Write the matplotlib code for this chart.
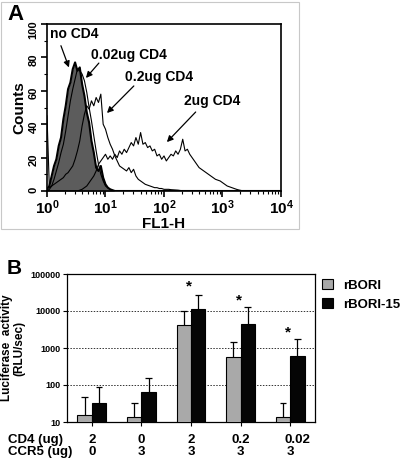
import numpy as np
import matplotlib
matplotlib.use('Agg')
import matplotlib.pyplot as plt
from matplotlib.patches import Patch, Rectangle
from matplotlib.ticker import FixedLocator, LogLocator, NullLocator, NullFormatter

plt.rcParams['font.family'] = ['Liberation Sans', 'DejaVu Sans']
plt.rcParams['font.weight'] = 'bold'
plt.rcParams['mathtext.fontset'] = 'custom'
plt.rcParams['mathtext.rm'] = 'Liberation Sans:bold'
plt.rcParams['mathtext.bf'] = 'Liberation Sans:bold'
plt.rcParams['mathtext.default'] = 'bf'

# ---- panel A: FL1-H histograms (counts per channel) ----
channels = np.logspace(0, 4, 101)

no_cd4 = [1, 3, 9, 15, 19, 27, 32, 43, 51, 61,
          65, 73, 77, 72, 74, 64, 57, 47, 41, 30,
          23, 14, 12, 15, 8, 4, 2, 1, 0.5, 0,
          0, 0, 0, 0, 0, 0, 0, 0, 0, 0,
          0, 0, 0, 0, 0, 0, 0, 0, 0, 0,
          0, 0, 0, 0, 0, 0, 0, 0, 0, 0,
          0, 0, 0, 0, 0, 0, 0, 0, 0, 0,
          0, 0, 0, 0, 0, 0, 0, 0, 0, 0,
          0, 0, 0, 0, 0, 0, 0, 0, 0, 0,
          0, 0, 0, 0, 0, 0, 0, 0, 0, 0,
          0]

cd4_002 = [0, 1, 3, 7, 12, 17, 23, 28, 36, 45,
           54, 61, 67, 73, 72, 70, 66, 59, 50, 42,
           33, 24, 16, 10, 6, 3, 2, 1, 0, 0,
           0, 0, 0, 0, 0, 0, 0, 0, 0, 0,
           0, 0, 0, 0, 0, 0, 0, 0, 0, 0,
           0, 0, 0, 0, 0, 0, 0, 0, 0, 0,
           0, 0, 0, 0, 0, 0, 0, 0, 0, 0,
           0, 0, 0, 0, 0, 0, 0, 0, 0, 0,
           0, 0, 0, 0, 0, 0, 0, 0, 0, 0,
           0, 0, 0, 0, 0, 0, 0, 0, 0, 0,
           0]

cd4_02 = [45, 2, 3, 4, 5, 6, 7, 8, 10, 11,
          13, 15, 19, 24, 30, 39, 46, 51, 49, 54,
          51, 56, 53, 58, 40, 37, 32, 28, 25, 21,
          18, 15, 14, 13, 12, 14, 11, 13, 9, 7,
          6, 5, 4, 3.5, 3, 2.5, 2, 2, 1.5, 1.5,
          1, 1, 1, 0.8, 0.7, 0.6, 0.5, 0.3, 0, 0,
          0, 0, 0, 0, 0, 0, 0, 0, 0, 0,
          0, 0, 0, 0, 0, 0, 0, 0, 0, 0,
          0, 0, 0, 0, 0, 0, 0, 0, 0, 0,
          0, 0, 0, 0, 0, 0, 0, 0, 0, 0,
          0]

cd4_2 = [0, 0, 0, 0, 0, 0, 0, 0, 0, 0,
         0, 0, 0, 0, 0.5, 1, 2, 3, 5, 7,
         9, 12, 16, 18, 20, 22, 19, 21, 19, 22,
         20, 24, 22, 25, 23, 26, 29, 27, 32, 28,
         35, 28, 29, 26, 27, 24, 25, 21, 22, 19,
         21, 18, 20, 22, 21, 24, 22, 25, 31, 24,
         25, 22, 20, 18, 16, 14, 13, 12, 11, 10,
         9, 8, 7, 6.5, 6, 5, 4, 3, 2.5, 2,
         1.5, 1, 0.6, 0.3, 0, 0, 0, 0, 0, 0,
         0, 0, 0, 0, 0, 0, 0, 0, 0, 0,
         0]

# ---- panel B: luciferase activity ----
cd4_ug = ['2', '0', '2', '0.2', '0.02']
ccr5_ug = ['0', '3', '3', '3', '3']
rbori = [15.5, 14, 4200, 560, 13.6]
rbori_err_top = [48, 32, 10200, 1420, 33]
rbori15 = [32, 63, 11000, 4550, 620]
rbori15_err_top = [87, 158, 27000, 13000, 1760]
star_groups = [2, 3, 4]
star_heights = [45700, 19800, 2600]

fig = plt.figure(figsize=(4.05, 4.67), dpi=100)

# light frame around panel A
fig.patches.append(Rectangle((0.002, 1 - 229 / 467), 298 / 405, 227 / 467,
                             transform=fig.transFigure, fill=False,
                             edgecolor='#c8c8c8', lw=0.8))

# ================= panel A =================
axA = fig.add_axes([47 / 405, 1 - 191 / 467, 234 / 405, 167 / 467])
axA.fill_between(channels, no_cd4, color='#5c5c5c', lw=0)
axA.plot(channels, no_cd4, color='black', lw=1.5)
axA.plot(channels, cd4_002, color='black', lw=0.8)
axA.plot(channels, cd4_02, color='black', lw=0.8)
axA.plot(channels, cd4_2, color='black', lw=0.8)
axA.set_xscale('log')
axA.set_xlim(1, 10000)
axA.set_ylim(0, 100)
axA.set_yticks([0, 20, 40, 60, 80, 100])
axA.yaxis.set_minor_locator(FixedLocator([10, 30, 50, 70, 90]))
axA.xaxis.set_major_locator(FixedLocator([1, 10, 100, 1000, 10000]))
axA.xaxis.set_minor_locator(LogLocator(base=10, subs=np.arange(2, 10)))
axA.xaxis.set_minor_formatter(NullFormatter())
axA.set_xticklabels(['$10^{0}$', '$10^{1}$', '$10^{2}$', '$10^{3}$', '$10^{4}$'])
axA.tick_params(axis='x', which='major', labelsize=11, length=4, width=1.2, pad=1)
axA.tick_params(axis='x', which='minor', length=2.5, width=0.8)
axA.tick_params(axis='y', which='major', labelsize=8, labelrotation=90, length=4, width=1.2, pad=2)
axA.tick_params(axis='y', which='minor', length=2, width=0.8)
for s in axA.spines.values():
    s.set_linewidth(1.2)
axA.set_xlabel('FL1-H', fontsize=11, fontweight='bold', labelpad=0)
axA.set_ylabel('Counts', fontsize=11, fontweight='bold', labelpad=2)

arrow = dict(arrowstyle='-|>', color='black', lw=0.9, mutation_scale=9, shrinkA=0, shrinkB=0)
axA.text(1.12, 94, 'no CD4', fontsize=10, fontweight='bold', va='center')
axA.annotate('', xy=(2.37, 74), xytext=(1.73, 87), arrowprops=arrow)
axA.text(5.6, 81.4, '0.02ug CD4', fontsize=10, fontweight='bold', va='center')
axA.annotate('', xy=(4.63, 67.7), xytext=(7.7, 76.6), arrowprops=arrow)
axA.text(21.5, 68.3, '0.2ug CD4', fontsize=10, fontweight='bold', va='center')
axA.annotate('', xy=(10.6, 46.7), xytext=(30.5, 62.9), arrowprops=arrow)
axA.text(218, 53.9, '2ug CD4', fontsize=10, fontweight='bold', va='center')
axA.annotate('', xy=(112, 29.3), xytext=(348, 47.3), arrowprops=arrow)

fig.text(7 / 405, 1 - 15 / 467, 'A', fontsize=16, fontweight='bold', va='center')

# ================= panel B =================
axB = fig.add_axes([67 / 405, 1 - 422 / 467, 248 / 405, 148 / 467])
x = np.arange(len(cd4_ug))
w = 0.29
axB.bar(x - w / 2, rbori, w, color='#a9a9a9', edgecolor='black', lw=0.8, zorder=3)
axB.bar(x + w / 2, rbori15, w, color='#050505', edgecolor='black', lw=0.8, zorder=3)
axB.vlines(x - w / 2, rbori, rbori_err_top, color='black', lw=0.9, zorder=2)
axB.hlines(rbori_err_top, x - w / 2 - 0.07, x - w / 2 + 0.07, color='black', lw=0.9, zorder=2)
axB.vlines(x + w / 2, rbori15, rbori15_err_top, color='black', lw=0.9, zorder=2)
axB.hlines(rbori15_err_top, x + w / 2 - 0.07, x + w / 2 + 0.07, color='black', lw=0.9, zorder=2)
for g, h in zip(star_groups, star_heights):
    axB.text(x[g] - 0.04, h, '*', fontsize=11, fontweight='bold', ha='center', va='center')

axB.set_yscale('log')
axB.set_ylim(10, 100000)
axB.set_xlim(-0.5, len(cd4_ug) - 0.5)
axB.yaxis.set_major_locator(FixedLocator([10, 100, 1000, 10000, 100000]))
axB.yaxis.set_minor_locator(NullLocator())
axB.set_yticklabels(['10', '100', '1000', '10000', '100000'])
for yv in [100, 1000, 10000]:
    axB.axhline(yv, color='#333333', lw=0.7, ls=(0, (1.5, 1.5)), zorder=1)
axB.set_xticks(x)
axB.set_xticklabels([])
axB.tick_params(axis='y', labelsize=6.5, length=3, width=0.8, pad=2)
axB.tick_params(axis='x', length=3, width=0.8)
for s in axB.spines.values():
    s.set_linewidth(0.9)
axB.set_ylabel('Luciferase  activity\n(RLU/sec)', fontsize=8.5, fontweight='bold',
               labelpad=3, linespacing=1.1)

axB.legend(handles=[Patch(facecolor='#a9a9a9', edgecolor='black', lw=0.8, label='rBORI'),
                    Patch(facecolor='#050505', edgecolor='black', lw=0.8, label='rBORI-15')],
           loc='upper left', bbox_to_anchor=(322 / 405, 1 - 279 / 467),
           bbox_transform=fig.transFigure, frameon=False, fontsize=9.5,
           handlelength=0.8, handleheight=0.8, handletextpad=0.8, labelspacing=0.5,
           borderaxespad=0, borderpad=0)

fig.text(8 / 405, 1 - 440 / 467, 'CD4 (ug)', fontsize=9.5, fontweight='bold', va='center')
fig.text(8 / 405, 1 - 452 / 467, 'CCR5 (ug)', fontsize=9.5, fontweight='bold', va='center')
row_y = [1 - 440 / 467, 1 - 452 / 467]
for i in range(len(cd4_ug)):
    axB.text(x[i] + (0.15 if i == 4 else 0), row_y[0], cd4_ug[i], fontsize=9.5, fontweight='bold',
             ha='center', va='center', transform=axB.get_xaxis_transform().__class__(axB.transData, fig.transFigure))
    axB.text(x[i], row_y[1], ccr5_ug[i], fontsize=9.5, fontweight='bold',
             ha='center', va='center', transform=axB.get_xaxis_transform().__class__(axB.transData, fig.transFigure))

fig.text(7 / 405, 1 - 268 / 467, 'B', fontsize=15, fontweight='bold', va='center')

fig.savefig('out.png', dpi=100)
